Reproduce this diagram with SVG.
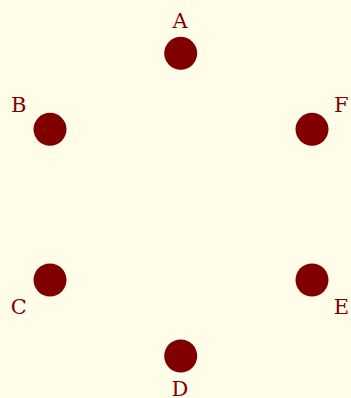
<svg xmlns="http://www.w3.org/2000/svg" width="351" height="398" viewBox="0 0 351 398">
<style>
.n{fill:#800000}
.t{font-family:"DejaVu Serif",serif;font-size:21px;fill:#800000;text-anchor:middle}
</style>
<rect width="351" height="398" fill="#fffcea"/>
<g id="connectors"></g>
<g id="A"><circle class="n" cx="180.7" cy="53.3" r="16.5"/><text class="t" x="180" y="28.2">A</text></g>
<g id="B"><circle class="n" cx="50" cy="129.3" r="16.5"/><text class="t" x="18.7" y="111.7">B</text></g>
<g id="F"><circle class="n" cx="312" cy="129.3" r="16.5"/><text class="t" x="341.3" y="111.7">F</text></g>
<g id="C"><circle class="n" cx="50" cy="280" r="16.5"/><text class="t" x="18.7" y="313.5">C</text></g>
<g id="E"><circle class="n" cx="312" cy="280" r="16.5"/><text class="t" x="341.3" y="313.5">E</text></g>
<g id="D"><circle class="n" cx="180.7" cy="356" r="16.5"/><text class="t" x="180" y="395.8">D</text></g>
</svg>
